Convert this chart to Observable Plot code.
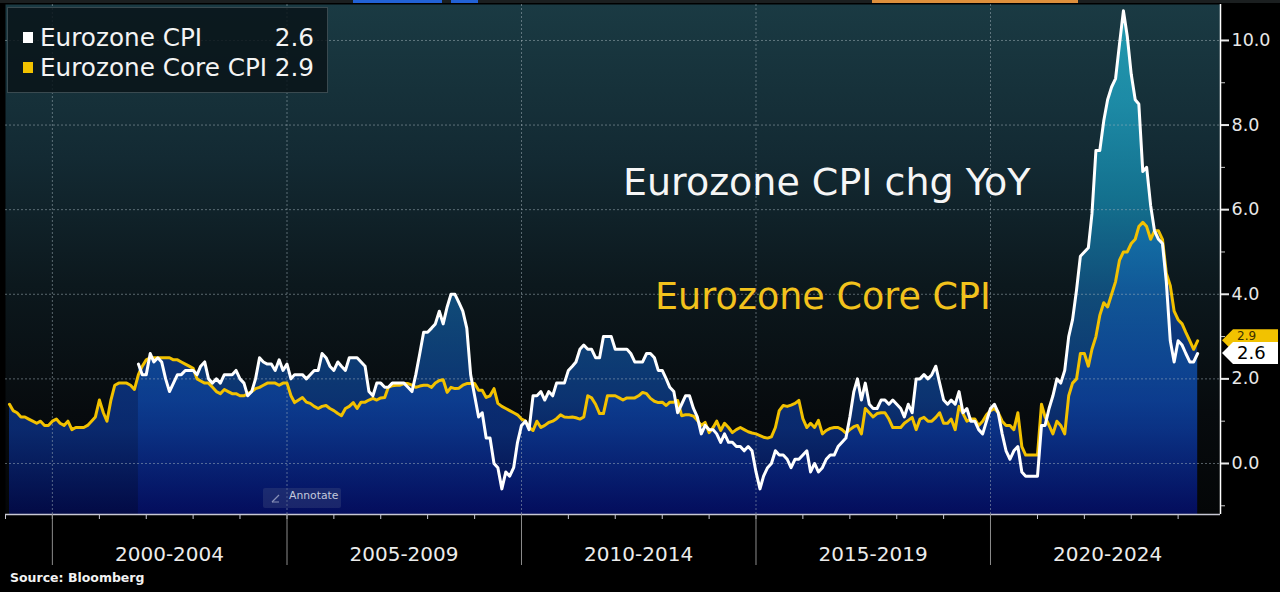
<!DOCTYPE html>
<html>
<head>
<meta charset="utf-8">
<script src="https://cdn.jsdelivr.net/npm/d3@7"></script>
<script src="https://cdn.jsdelivr.net/npm/@observablehq/plot@0.6"></script>
<style>
html,body{margin:0;padding:0;background:#000;}
#wrap{position:relative;width:1280px;height:592px;overflow:hidden;background:#000;font-family:"DejaVu Sans",sans-serif;}
#chart svg{display:block;}
#source{position:absolute;left:10px;top:571px;font:bold 12.5px/14px "DejaVu Sans",sans-serif;color:#f2f2f2;}
.strip{position:absolute;top:0;height:3px;}
#legend{position:absolute;left:7px;top:7px;width:319px;height:84px;background:rgba(9,20,25,0.85);border:1px solid #3a4a50;}
.lg{position:absolute;font:24.7px/1 "DejaVu Sans",sans-serif;color:#f4f4f4;white-space:nowrap;}
.sq{position:absolute;width:10px;height:11px;}
#annot{position:absolute;left:263px;top:488px;width:78px;height:20px;background:rgba(70,80,130,0.35);border-radius:2px;}
#annot span{position:absolute;left:26px;top:3px;font:10.8px/1 "DejaVu Sans",sans-serif;color:#c4c9dc;}
</style>
</head>
<body>
<div id="wrap">
  <div id="chart"></div>
  <div class="strip" style="left:0;width:1280px;background:#1b1f20"></div>
  <div class="strip" style="left:353px;width:89px;background:#2262d6"></div>
  <div class="strip" style="left:451px;width:27px;background:#2262d6"></div>
  <div class="strip" style="left:872px;width:206px;background:#de8f3c"></div>
  <div id="legend"></div>
  <div id="annot"><svg width="20" height="20" style="position:absolute;left:6px;top:0"><line x1="3" y1="14" x2="10" y2="7" stroke="#8890b8" stroke-width="1.3"/><line x1="3" y1="14" x2="10" y2="14" stroke="#8890b8" stroke-width="1"/></svg><span>Annotate</span></div>
  <div id="source">Source: Bloomberg</div>
</div>
<script>
// ---------- data (monthly YoY %) ----------
const seriesNames = ["Eurozone CPI", "Eurozone Core CPI"];
const cpiStart = [2001, 9];   // Oct 2001
const cpiValues = [
  2.35, 2.1, 2.1,                                              // 2001 Oct-Dec
  2.6, 2.4, 2.5, 2.4, 2.0, 1.7, 1.9, 2.1, 2.1, 2.2, 2.2, 2.2,  // 2002
  2.1, 2.3, 2.4, 2.0, 1.9, 2.0, 1.9, 2.1, 2.1, 2.1, 2.2, 2.0,  // 2003
  1.9, 1.6, 1.7, 2.0, 2.5, 2.4, 2.35, 2.35, 2.2, 2.45, 2.2, 2.35, // 2004
  2.0, 2.1, 2.1, 2.1, 2.0, 2.1, 2.2, 2.2, 2.6, 2.5, 2.3, 2.2,  // 2005
  2.4, 2.3, 2.2, 2.5, 2.5, 2.5, 2.4, 2.3, 1.7, 1.6, 1.9, 1.9,  // 2006
  1.8, 1.8, 1.9, 1.9, 1.9, 1.9, 1.8, 1.7, 2.1, 2.6, 3.1, 3.1,  // 2007
  3.2, 3.3, 3.6, 3.3, 3.7, 4.0, 4.0, 3.8, 3.6, 3.2, 2.1, 1.6,  // 2008
  1.1, 1.2, 0.6, 0.6, 0.0, -0.1, -0.6, -0.2, -0.3, -0.1, 0.5, 0.9, // 2009
  1.0, 0.8, 1.6, 1.6, 1.7, 1.5, 1.7, 1.6, 1.9, 1.9, 1.9, 2.2,  // 2010
  2.3, 2.4, 2.7, 2.8, 2.7, 2.7, 2.5, 2.5, 3.0, 3.0, 3.0, 2.7,  // 2011
  2.7, 2.7, 2.7, 2.6, 2.4, 2.4, 2.4, 2.6, 2.6, 2.5, 2.2, 2.2,  // 2012
  2.0, 1.8, 1.7, 1.2, 1.4, 1.6, 1.6, 1.3, 1.1, 0.7, 0.9, 0.8,  // 2013
  0.8, 0.7, 0.5, 0.7, 0.5, 0.5, 0.4, 0.4, 0.3, 0.4, 0.3, -0.2, // 2014
  -0.6, -0.3, -0.1, 0.0, 0.3, 0.2, 0.2, 0.1, -0.1, 0.1, 0.1, 0.2, // 2015
  0.3, -0.2, 0.0, -0.2, -0.1, 0.1, 0.2, 0.2, 0.4, 0.5, 0.6, 1.1, // 2016
  1.7, 2.0, 1.5, 1.9, 1.4, 1.3, 1.3, 1.5, 1.5, 1.4, 1.5, 1.4,  // 2017
  1.3, 1.1, 1.4, 1.2, 2.0, 2.0, 2.1, 2.0, 2.1, 2.3, 1.9, 1.5,  // 2018
  1.4, 1.5, 1.4, 1.7, 1.2, 1.3, 1.0, 1.0, 0.8, 0.7, 1.0, 1.3,  // 2019
  1.4, 1.2, 0.7, 0.3, 0.1, 0.3, 0.4, -0.2, -0.3, -0.3, -0.3, -0.3, // 2020
  0.9, 0.9, 1.3, 1.6, 2.0, 1.9, 2.2, 3.0, 3.4, 4.1, 4.9, 5.0,  // 2021
  5.1, 5.9, 7.4, 7.4, 8.1, 8.6, 8.9, 9.1, 9.9, 10.7, 10.1, 9.2, // 2022
  8.6, 8.5, 6.9, 7.0, 6.1, 5.5, 5.3, 5.2, 4.3, 2.9, 2.4, 2.9,  // 2023
  2.8, 2.6, 2.4, 2.4, 2.6                                       // 2024 Jan-May
];
const coreStart = [1999, 0];  // Jan 1999
const coreValues = [
  1.4, 1.25, 1.2, 1.1, 1.1, 1.05, 1.0, 0.95, 1.0, 0.9, 0.9, 1.0,   // 1999
  1.05, 0.95, 0.9, 1.0, 0.8, 0.85, 0.85, 0.85, 0.9, 1.0, 1.1, 1.5, // 2000
  1.2, 1.0, 1.5, 1.85, 1.9, 1.9, 1.9, 1.85, 1.75, 2.1, 2.3, 2.45,  // 2001
  2.5, 2.5, 2.5, 2.5, 2.5, 2.5, 2.45, 2.45, 2.4, 2.35, 2.3, 2.25,  // 2002
  2.0, 1.95, 1.9, 1.9, 1.8, 1.7, 1.65, 1.75, 1.7, 1.65, 1.65, 1.6, // 2003
  1.6, 1.65, 1.7, 1.77, 1.8, 1.85, 1.9, 1.9, 1.9, 1.85, 1.9, 1.9,  // 2004
  1.6, 1.44, 1.5, 1.56, 1.45, 1.42, 1.35, 1.3, 1.35, 1.37, 1.3, 1.25, // 2005
  1.18, 1.13, 1.3, 1.35, 1.44, 1.3, 1.45, 1.45, 1.5, 1.54, 1.5, 1.55, // 2006
  1.56, 1.8, 1.84, 1.85, 1.85, 1.89, 1.89, 1.85, 1.8, 1.83, 1.85, 1.85, // 2007
  1.8, 1.9, 1.96, 1.98, 1.68, 1.8, 1.77, 1.78, 1.85, 1.89, 1.89, 1.89, // 2008
  1.73, 1.73, 1.56, 1.6, 1.77, 1.42, 1.35, 1.3, 1.25, 1.2, 1.15, 1.05, // 2009
  1.0, 0.85, 0.78, 1.0, 0.85, 0.9, 0.97, 1.0, 1.06, 1.15, 1.1, 1.09,  // 2010
  1.1, 1.08, 1.05, 1.1, 1.6, 1.55, 1.4, 1.18, 1.18, 1.6, 1.6, 1.6,   // 2011
  1.55, 1.5, 1.55, 1.55, 1.55, 1.6, 1.68, 1.65, 1.54, 1.47, 1.44, 1.45, // 2012
  1.37, 1.45, 1.45, 1.49, 1.13, 1.15, 1.15, 1.12, 1.02, 0.9, 0.97, 0.73, // 2013
  0.85, 1.0, 0.78, 0.95, 0.85, 0.73, 0.8, 0.85, 0.8, 0.75, 0.72, 0.7,  // 2014
  0.66, 0.62, 0.6, 0.63, 0.85, 1.25, 1.37, 1.35, 1.38, 1.42, 1.49, 1.06, // 2015
  0.85, 0.95, 0.85, 1.02, 0.7, 0.78, 0.83, 0.85, 0.85, 0.8, 0.72, 0.8,  // 2016
  0.87, 0.9, 0.7, 1.3, 1.2, 1.1, 1.18, 1.2, 1.2, 1.05, 0.85, 0.85,    // 2017
  0.85, 0.95, 1.02, 1.09, 0.8, 1.05, 1.09, 1.0, 1.0, 1.09, 1.2, 0.95,  // 2018
  0.95, 1.05, 0.8, 1.35, 1.18, 1.0, 1.05, 1.05, 0.9, 1.0, 1.15, 1.25,  // 2019
  1.3, 1.2, 1.0, 0.9, 0.9, 0.8, 1.2, 0.4, 0.2, 0.2, 0.2, 0.2,        // 2020
  1.4, 1.1, 0.9, 0.7, 1.0, 0.9, 0.7, 1.6, 1.9, 2.0, 2.6, 2.6,        // 2021
  2.3, 2.7, 3.0, 3.5, 3.8, 3.7, 4.0, 4.3, 4.8, 5.0, 5.0, 5.2,        // 2022
  5.3, 5.6, 5.7, 5.6, 5.3, 5.5, 5.5, 5.3, 4.5, 4.2, 3.6, 3.4,        // 2023
  3.3, 3.1, 2.9, 2.7, 2.9                                           // 2024 Jan-May
];
const periodLabels = ["2000-2004", "2005-2009", "2010-2014", "2015-2019", "2020-2024"];
const periodStarts = [2000, 2005, 2010, 2015, 2020];
const yTicks = [0, 2, 4, 6, 8, 10];
const yMinorTicks = [-1, 1, 3, 5, 7, 9];
const chartTitle = "Eurozone CPI chg YoY";
const coreTitle = "Eurozone Core CPI";

// ---------- build tables ----------
const monthEnd = (start, i) => new Date(Date.UTC(start[0], start[1] + i + 1, 1));
const cpi = cpiValues.map((v, i) => ({date: monthEnd(cpiStart, i), value: v}));
const core = coreValues.map((v, i) => ({date: monthEnd(coreStart, i), value: v}));
const X_MIN = new Date(Date.UTC(1999, 0, 1));
const X_MAX = new Date(Date.UTC(2024, 10, 26));
const Y_MIN = -1.206, Y_MAX = 10.85;
const sepDates = periodStarts.map(y => new Date(Date.UTC(y, 0, 1)));
const labelDates = periodStarts.map(y => new Date(Date.UTC(y + 2, 6, 1)));
const yearDates = d3.range(1999, 2025).map(y => new Date(Date.UTC(y, 0, 1)));
const labelFor = d => periodLabels[periodStarts.indexOf(d.getUTCFullYear() - 2)];

const WHITE = "#ffffff", YELLOW = "#f2c100";
const grid = {stroke: "#a8b8c0", strokeOpacity: 0.5, strokeDasharray: "2,2", strokeWidth: 1};

const plot = Plot.plot({
  width: 1280, height: 568,
  marginTop: 4, marginBottom: 54, marginLeft: 5, marginRight: 60,
  style: {background: "#000", color: "#e6e6e6", fontFamily: "DejaVu Sans, sans-serif"},
  x: {type: "utc", domain: [X_MIN, X_MAX], label: null},
  y: {domain: [Y_MIN, Y_MAX], label: null},
  marks: [
    Plot.frame({fill: "url(#bgGrad)", stroke: "none"}),
    Plot.areaY(core, {x: "date", y1: Y_MIN, y2: "value", fill: "url(#coreGrad)", fillOpacity: 0.7}),
    Plot.areaY(cpi, {x: "date", y1: Y_MIN, y2: "value", fill: "url(#cpiGrad)", fillOpacity: 0.7}),
    Plot.ruleY(yTicks, grid),
    Plot.ruleX(sepDates, grid),
    Plot.lineY(core, {x: "date", y: "value", stroke: YELLOW, strokeWidth: 3}),
    Plot.lineY(cpi, {x: "date", y: "value", stroke: WHITE, strokeWidth: 3}),
    Plot.ruleX([X_MAX], {stroke: "#fff", strokeWidth: 1.5}),
    Plot.ruleY([Y_MIN], {stroke: "#c8c8d4", strokeWidth: 1.5}),
    Plot.axisY(yMinorTicks, {anchor: "right", tickSize: 4, tickFormat: () => "", color: "#cccccc", label: null}),
    Plot.axisY(yTicks, {anchor: "right", tickSize: 8, tickPadding: 3, strokeWidth: 2, tickFormat: d3.format(".1f"), fontSize: 17.5, color: "#e8e8e8", label: null}),
    Plot.axisX(yearDates, {anchor: "bottom", tickSize: 5, tickFormat: () => "", color: "#c8c8d4", label: null}),
    Plot.axisX(sepDates, {anchor: "bottom", tickSize: 51, tickFormat: () => "", color: "#8c8c8c", label: null}),
    Plot.axisX(labelDates, {anchor: "bottom", tickSize: 0, tickPadding: 32, tickFormat: labelFor, fontSize: 20, color: "#ececec", label: null})
  ]
});

// gradients
const svg = d3.select(plot);
const defs = svg.insert("defs", ":first-child");
function grad(id, stops) {
  const g = defs.append("linearGradient").attr("id", id)
    .attr("gradientUnits", "userSpaceOnUse").attr("x1", 0).attr("x2", 0).attr("y1", 4).attr("y2", 514);
  stops.forEach(([o, c]) => g.append("stop").attr("offset", o).attr("stop-color", c));
}
grad("bgGrad", [[0, "#1a3a43"], [0.3, "#132a33"], [0.55, "#0c181d"], [0.8, "#070b0e"], [1, "#040607"]]);
grad("cpiGrad", [[0, "#28c4dc"], [0.19, "#20b1d4"], [0.38, "#1591b8"], [0.58, "#12609f"], [0.78, "#0d429a"], [1, "#040e66"]]);
grad("coreGrad", [[0, "#1a6ac0"], [0.5, "#1150b0"], [0.83, "#0b3797"], [1, "#020c60"]]);

// annotation texts
const sx = plot.scale("x"), sy = plot.scale("y");
svg.append("text").attr("x", 623).attr("y", 195).attr("fill", "#f6f6f6").attr("text-anchor", "start")
  .attr("font-family", "DejaVu Sans").attr("font-size", 38).text(chartTitle);
svg.append("text").attr("x", 655).attr("y", 309).attr("fill", "#f2c21c").attr("text-anchor", "start")
  .attr("font-family", "DejaVu Sans").attr("font-size", 36.5).text(coreTitle);

// last-value tags on the right axis
const lastCpi = cpiValues[cpiValues.length - 1];
const lastCore = coreValues[coreValues.length - 1];
function tag(v, fill, textFill, fontSize, dy) {
  const yc = sy.apply(v), x0 = sx.apply(X_MAX) + 2;
  svg.append("path")
    .attr("d", `M${x0},${yc} L${x0 + 11},${yc - 11} L${x0 + 56},${yc - 11} L${x0 + 56},${yc + 11} L${x0 + 11},${yc + 11} Z`)
    .attr("fill", fill);
  svg.append("text").attr("x", x0 + 15).attr("y", yc + dy).attr("fill", textFill).attr("text-anchor", "start")
    .attr("font-family", "DejaVu Sans").attr("font-size", fontSize).text(v.toFixed(1));
}
tag(lastCore, "#f2c200", "#3a3000", 12, 0);
tag(lastCpi, "#ffffff", "#000000", 18, 6.5);

document.getElementById("chart").appendChild(plot);

// legend
const legend = document.getElementById("legend");
[[seriesNames[0], lastCpi, "#ffffff", 0], [seriesNames[1], lastCore, "#f2c200", 1]].forEach(([name, v, c, i]) => {
  const top = 22 + i * 30;
  legend.insertAdjacentHTML("beforeend",
    `<div class="sq" style="left:15px;top:${top + 2}px;background:${c}"></div>` +
    `<div class="lg" style="left:32px;top:${top - 4}px">${name}</div>` +
    `<div class="lg" style="right:13px;top:${top - 4}px">${v.toFixed(1)}</div>`);
});
</script>
</body>
</html>
